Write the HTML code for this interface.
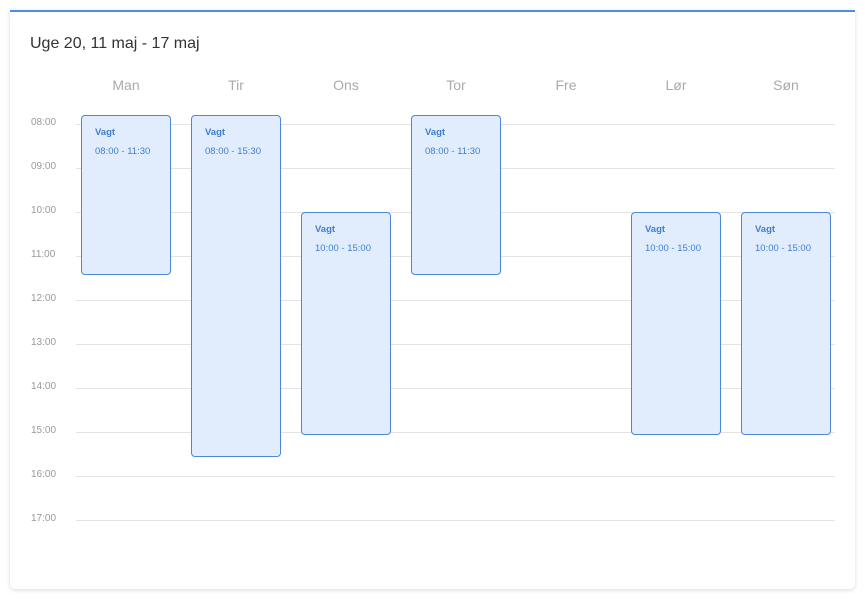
<!DOCTYPE html>
<html><head><meta charset="utf-8"><style>
*{margin:0;padding:0;box-sizing:border-box}
body{width:865px;height:599px;background:#fff;font-family:"Liberation Sans",sans-serif;position:relative;overflow:hidden}
.card{position:absolute;left:10px;top:10px;width:845px;height:579px;background:#fff;border-top:2px solid #4a8fe7;border-radius:0 0 5px 5px;box-shadow:0 1px 5px rgba(0,0,0,.15)}
.t{position:absolute;left:30px;top:35px;font-size:16px;color:#333}
.h{position:absolute;top:77px;width:110px;text-align:center;font-size:14px;color:#aaa}
.l{position:absolute;left:31px;font-size:10px;color:#999}
.g{position:absolute;left:76px;width:759px;height:1px;background:#e4e4e4}
.e{position:absolute;width:90px;background:#e1edfd;border:1px solid #4d88d6;border-radius:4px;color:#3f7fd0;font-size:9.5px}
.e b{position:absolute;left:13px;top:11px;font-weight:bold}
.e span{position:absolute;left:13px;top:30px}
</style></head><body>
<div class="card"></div>
<div class="t">Uge 20, 11 maj - 17 maj</div>
<div class="h" style="left:71px">Man</div>
<div class="h" style="left:181px">Tir</div>
<div class="h" style="left:291px">Ons</div>
<div class="h" style="left:401px">Tor</div>
<div class="h" style="left:511px">Fre</div>
<div class="h" style="left:621px">Lør</div>
<div class="h" style="left:731px">Søn</div>
<div class="l" style="top:117px">08:00</div><div class="g" style="top:124px"></div>
<div class="l" style="top:161px">09:00</div><div class="g" style="top:168px"></div>
<div class="l" style="top:205px">10:00</div><div class="g" style="top:212px"></div>
<div class="l" style="top:249px">11:00</div><div class="g" style="top:256px"></div>
<div class="l" style="top:293px">12:00</div><div class="g" style="top:300px"></div>
<div class="l" style="top:337px">13:00</div><div class="g" style="top:344px"></div>
<div class="l" style="top:381px">14:00</div><div class="g" style="top:388px"></div>
<div class="l" style="top:425px">15:00</div><div class="g" style="top:432px"></div>
<div class="l" style="top:469px">16:00</div><div class="g" style="top:476px"></div>
<div class="l" style="top:513px">17:00</div><div class="g" style="top:520px"></div>
<div class="e" style="left:81px;top:115px;height:160px"><b>Vagt</b><span>08:00 - 11:30</span></div>
<div class="e" style="left:191px;top:115px;height:342px"><b>Vagt</b><span>08:00 - 15:30</span></div>
<div class="e" style="left:301px;top:212px;height:223px"><b>Vagt</b><span>10:00 - 15:00</span></div>
<div class="e" style="left:411px;top:115px;height:160px"><b>Vagt</b><span>08:00 - 11:30</span></div>
<div class="e" style="left:631px;top:212px;height:223px"><b>Vagt</b><span>10:00 - 15:00</span></div>
<div class="e" style="left:741px;top:212px;height:223px"><b>Vagt</b><span>10:00 - 15:00</span></div>
</body></html>
